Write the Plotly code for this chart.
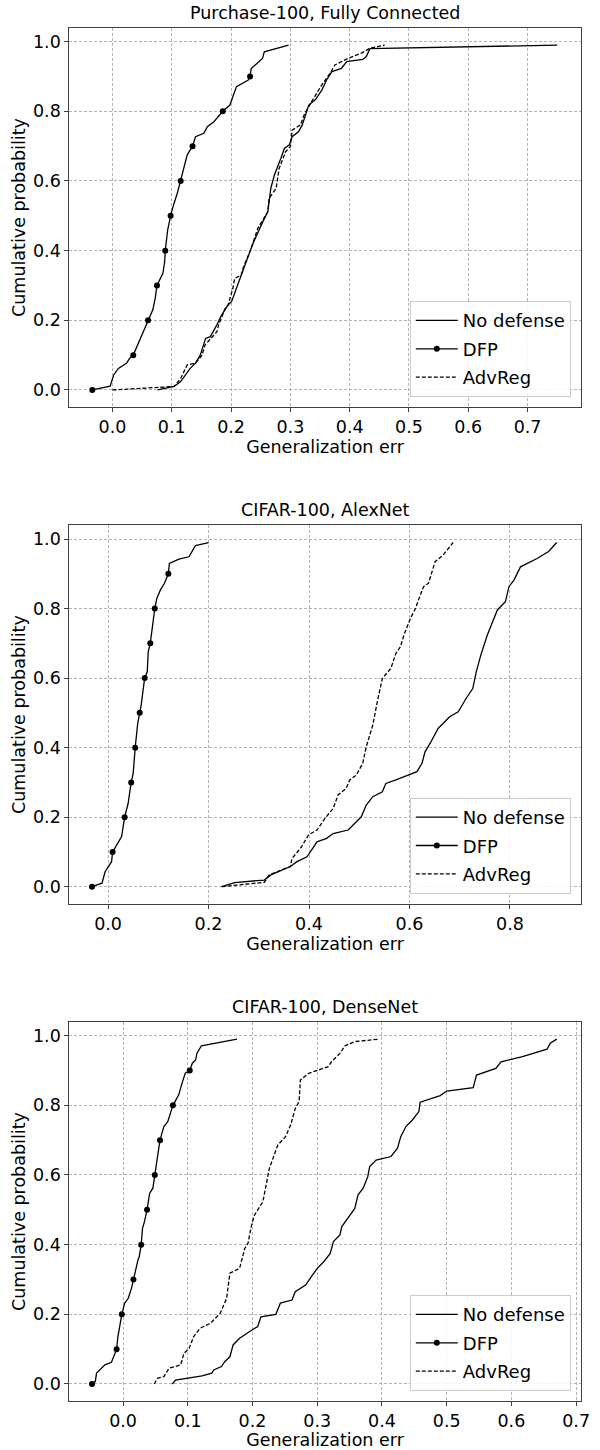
import plotly.graph_objects as go

# ---------------- data ----------------
TITLES = ["Purchase-100, Fully Connected", "CIFAR-100, AlexNet", "CIFAR-100, DenseNet"]
SERIES_NAMES = ["No defense", "DFP", "AdvReg"]
X_LABEL = "Generalization err"
Y_LABEL = "Cumulative probability"

# Plot 1: Purchase-100, Fully Connected
P1_NODEF_X = [0.076, 0.104, 0.115, 0.126, 0.131, 0.140, 0.148, 0.157, 0.165, 0.176, 0.184, 0.195, 0.201, 0.209,
              0.220, 0.234, 0.237, 0.251, 0.262, 0.267, 0.273, 0.284, 0.290, 0.298, 0.303, 0.314, 0.320, 0.331,
              0.342, 0.353, 0.361, 0.370, 0.386, 0.395, 0.422, 0.428, 0.434, 0.750]
P1_NODEF_Y = [0.0, 0.01, 0.024, 0.048, 0.062, 0.077, 0.1, 0.148, 0.153, 0.187, 0.215, 0.244, 0.254, 0.292,
              0.344, 0.407, 0.421, 0.474, 0.512, 0.579, 0.617, 0.665, 0.694, 0.703, 0.727, 0.742, 0.761, 0.818,
              0.833, 0.861, 0.89, 0.914, 0.923, 0.943, 0.949, 0.957, 0.98, 0.99]
P1_DFP_X = [-0.034, -0.004, 0.002, 0.010, 0.024, 0.029, 0.035, 0.046, 0.052, 0.060, 0.068, 0.072, 0.075, 0.085,
            0.088, 0.089, 0.093, 0.098, 0.101, 0.110, 0.115, 0.121, 0.126, 0.135, 0.140, 0.154, 0.160, 0.171,
            0.186, 0.198, 0.204, 0.209, 0.229, 0.232, 0.234, 0.244, 0.253, 0.256, 0.297]
P1_DFP_Y = [0.0, 0.011, 0.043, 0.062, 0.077, 0.091, 0.1, 0.144, 0.167, 0.2, 0.23, 0.263, 0.3, 0.335,
            0.368, 0.4, 0.459, 0.5, 0.52, 0.569, 0.6, 0.636, 0.675, 0.7, 0.727, 0.737, 0.756, 0.77,
            0.8, 0.818, 0.847, 0.871, 0.89, 0.9, 0.923, 0.938, 0.952, 0.971, 0.99]
P1_ADV_X = [0.0, 0.104, 0.115, 0.126, 0.140, 0.151, 0.156, 0.176, 0.179, 0.190, 0.195, 0.203, 0.206, 0.217,
            0.220, 0.234, 0.245, 0.262, 0.264, 0.276, 0.281, 0.287, 0.292, 0.300, 0.303, 0.317, 0.323, 0.334,
            0.342, 0.353, 0.367, 0.375, 0.397, 0.420, 0.434, 0.459]
P1_ADV_Y = [0.0, 0.01, 0.033, 0.072, 0.077, 0.1, 0.129, 0.167, 0.187, 0.234, 0.244, 0.292, 0.32, 0.33,
            0.349, 0.407, 0.464, 0.512, 0.55, 0.579, 0.636, 0.665, 0.684, 0.699, 0.746, 0.761, 0.789, 0.823,
            0.847, 0.876, 0.909, 0.933, 0.952, 0.967, 0.981, 0.99]

# Plot 2: CIFAR-100, AlexNet
P2_NODEF_X = [0.226, 0.252, 0.311, 0.324, 0.363, 0.376, 0.396, 0.409, 0.416, 0.435, 0.448, 0.478, 0.487, 0.504,
              0.514, 0.527, 0.546, 0.553, 0.573, 0.615, 0.625, 0.631, 0.641, 0.657, 0.680, 0.697, 0.713, 0.726,
              0.733, 0.742, 0.755, 0.765, 0.775, 0.791, 0.798, 0.808, 0.821, 0.854, 0.877, 0.893]
P2_NODEF_Y = [0.0, 0.012, 0.019, 0.034, 0.058, 0.072, 0.086, 0.115, 0.129, 0.139, 0.153, 0.163, 0.177, 0.201,
              0.235, 0.259, 0.273, 0.297, 0.307, 0.331, 0.355, 0.388, 0.412, 0.455, 0.489, 0.503, 0.542, 0.570,
              0.618, 0.666, 0.724, 0.762, 0.796, 0.820, 0.863, 0.882, 0.920, 0.944, 0.964, 0.99]
P2_DFP_X = [-0.032, -0.012, -0.006, 0.001, 0.007, 0.009, 0.017, 0.027, 0.033, 0.040, 0.046, 0.050, 0.054, 0.059,
            0.063, 0.066, 0.071, 0.073, 0.078, 0.080, 0.084, 0.089, 0.093, 0.097, 0.104, 0.112, 0.120, 0.122,
            0.141, 0.161, 0.174, 0.200]
P2_DFP_Y = [0.0, 0.01, 0.043, 0.058, 0.072, 0.1, 0.12, 0.144, 0.2, 0.24, 0.3, 0.326, 0.4, 0.47,
            0.5, 0.523, 0.58, 0.6, 0.618, 0.676, 0.7, 0.762, 0.8, 0.829, 0.853, 0.872, 0.9, 0.93,
            0.942, 0.949, 0.981, 0.99]
P2_ADV_X = [0.226, 0.311, 0.321, 0.363, 0.366, 0.383, 0.393, 0.399, 0.416, 0.432, 0.448, 0.458, 0.474, 0.481,
            0.494, 0.507, 0.514, 0.527, 0.536, 0.546, 0.563, 0.573, 0.582, 0.589, 0.602, 0.612, 0.618, 0.628,
            0.638, 0.651, 0.667, 0.687]
P2_ADV_Y = [0.0, 0.0125, 0.034, 0.058, 0.081, 0.110, 0.134, 0.149, 0.163, 0.197, 0.225, 0.264, 0.283, 0.307,
            0.321, 0.355, 0.403, 0.465, 0.532, 0.599, 0.628, 0.671, 0.690, 0.724, 0.772, 0.800, 0.825, 0.863,
            0.873, 0.935, 0.954, 0.99]

# Plot 3: CIFAR-100, DenseNet
P3_NODEF_X = [0.076, 0.081, 0.122, 0.137, 0.140, 0.152, 0.157, 0.165, 0.170, 0.180, 0.195, 0.208, 0.213, 0.236,
              0.243, 0.261, 0.266, 0.282, 0.289, 0.300, 0.310, 0.320, 0.325, 0.335, 0.338, 0.350, 0.358, 0.363,
              0.371, 0.378, 0.381, 0.391, 0.414, 0.424, 0.429, 0.437, 0.447, 0.457, 0.459, 0.490, 0.500, 0.541,
              0.546, 0.576, 0.584, 0.617, 0.655, 0.660, 0.670]
P3_NODEF_Y = [0.0, 0.011, 0.023, 0.031, 0.040, 0.050, 0.064, 0.078, 0.112, 0.131, 0.150, 0.165, 0.193, 0.200,
              0.232, 0.241, 0.265, 0.284, 0.303, 0.332, 0.351, 0.375, 0.409, 0.428, 0.452, 0.485, 0.504, 0.543,
              0.562, 0.595, 0.624, 0.643, 0.653, 0.677, 0.710, 0.739, 0.758, 0.782, 0.809, 0.828, 0.841, 0.851,
              0.887, 0.906, 0.925, 0.940, 0.961, 0.978, 0.99]
P3_DFP_X = [-0.048, -0.043, -0.041, -0.028, -0.018, -0.010, -0.008, -0.002, 0.0025, 0.008, 0.013, 0.016, 0.020,
            0.023, 0.025, 0.028, 0.030, 0.033, 0.037, 0.041, 0.046, 0.049, 0.052, 0.056, 0.057, 0.063, 0.069,
            0.077, 0.086, 0.091, 0.096, 0.103, 0.107, 0.112, 0.114, 0.121, 0.176]
P3_DFP_Y = [0.0, 0.007, 0.031, 0.055, 0.062, 0.1, 0.136, 0.2, 0.232, 0.246, 0.275, 0.3, 0.337,
            0.356, 0.366, 0.4, 0.447, 0.466, 0.5, 0.547, 0.562, 0.6, 0.638, 0.686, 0.7, 0.739, 0.753,
            0.8, 0.830, 0.863, 0.892, 0.9, 0.921, 0.930, 0.949, 0.971, 0.99]
P3_ADV_X = [0.048, 0.053, 0.063, 0.071, 0.089, 0.094, 0.102, 0.109, 0.119, 0.135, 0.150, 0.160, 0.165, 0.180,
            0.188, 0.193, 0.198, 0.203, 0.216, 0.226, 0.239, 0.251, 0.259, 0.266, 0.272, 0.274, 0.287, 0.317,
            0.322, 0.335, 0.343, 0.358, 0.396]
P3_ADV_Y = [0.0, 0.016, 0.021, 0.045, 0.055, 0.088, 0.102, 0.136, 0.160, 0.174, 0.203, 0.246, 0.318, 0.332,
            0.389, 0.404, 0.452, 0.485, 0.523, 0.619, 0.686, 0.710, 0.744, 0.791, 0.811, 0.873, 0.892, 0.911,
            0.925, 0.949, 0.971, 0.983, 0.99]

X_DTICK = [0.1, 0.2, 0.1]
X_RANGES = [[-0.0726, 0.7895], [-0.0769, 0.9408], [-0.0829, 0.7070]]
Y_RANGE = [-0.0495, 1.0395]

PANELS = [
    (P1_NODEF_X, P1_NODEF_Y, P1_DFP_X, P1_DFP_Y, P1_ADV_X, P1_ADV_Y),
    (P2_NODEF_X, P2_NODEF_Y, P2_DFP_X, P2_DFP_Y, P2_ADV_X, P2_ADV_Y),
    (P3_NODEF_X, P3_NODEF_Y, P3_DFP_X, P3_DFP_Y, P3_ADV_X, P3_ADV_Y),
]

# ---------------- layout geometry (pixels) ----------------
W, H = 600, 1450
AX_LEFT, AX_RIGHT = 70.5, 589.5
AX_TB = [(27.9, 407.2), (525.3, 903.9), (1021.9, 1401.2)]

FONT = "DejaVu Sans"
FS = 17.5
LEG_FS = 18
LINE_C = "#000000"
FRAME_C = "#404040"
GRID_C = "#b3b3b3"
LW = 1.3

fig = go.Figure()
layout_axes = {}
annotations = []

for i, (nx, ny, dx, dy, ax_, ay_) in enumerate(PANELS):
    k = "" if i == 0 else str(i + 1)
    xa, ya = "x" + k, "y" + k
    leg = "legend" + k
    top, bot = AX_TB[i]

    # No defense
    fig.add_trace(go.Scatter(x=nx, y=ny, mode="lines", name=SERIES_NAMES[0],
                             line=dict(color=LINE_C, width=LW), xaxis=xa, yaxis=ya,
                             legend=leg, legendgroup=f"nd{i}", showlegend=True, hoverinfo="skip"))
    # DFP line (legend via dummy)
    fig.add_trace(go.Scatter(x=dx, y=dy, mode="lines", name=SERIES_NAMES[1],
                             line=dict(color=LINE_C, width=LW), xaxis=xa, yaxis=ya,
                             legend=leg, legendgroup=f"dfp{i}", showlegend=False, hoverinfo="skip"))
    mx = [x for x, y in zip(dx, dy) if y < 0.95 and abs(y * 10 - round(y * 10)) < 1e-9]
    my = [y for x, y in zip(dx, dy) if y < 0.95 and abs(y * 10 - round(y * 10)) < 1e-9]
    fig.add_trace(go.Scatter(x=mx, y=my, mode="markers", name=SERIES_NAMES[1],
                             marker=dict(color=LINE_C, size=6), xaxis=xa, yaxis=ya,
                             legend=leg, legendgroup=f"dfp{i}", showlegend=False, hoverinfo="skip"))
    fig.add_trace(go.Scatter(x=[None], y=[None], mode="lines+markers", name=SERIES_NAMES[1],
                             line=dict(color=LINE_C, width=LW), marker=dict(color=LINE_C, size=6),
                             xaxis=xa, yaxis=ya, legend=leg, legendgroup=f"dfp{i}", showlegend=True))
    # AdvReg
    fig.add_trace(go.Scatter(x=ax_, y=ay_, mode="lines", name=SERIES_NAMES[2],
                             line=dict(color=LINE_C, width=LW, dash="4px,2px"), xaxis=xa, yaxis=ya,
                             legend=leg, legendgroup=f"adv{i}", showlegend=True, hoverinfo="skip"))

    common = dict(showline=True, mirror=True, linecolor=FRAME_C, linewidth=1.2,
                  showgrid=True, gridcolor=GRID_C, gridwidth=0.8, griddash="3px,2px",
                  ticks="outside", ticklen=4, tickwidth=1, tickcolor=FRAME_C,
                  tickfont=dict(family=FONT, size=FS, color="#000"),
                  zeroline=False, tickformat=".1f")
    layout_axes["xaxis" + k] = dict(common, domain=[AX_LEFT / W, AX_RIGHT / W], anchor=ya,
                                    range=X_RANGES[i], tick0=0, dtick=X_DTICK[i],
                                    title=dict(text=X_LABEL, font=dict(family=FONT, size=FS, color="#000"),
                                               standoff=0))
    layout_axes["yaxis" + k] = dict(common, domain=[(H - bot) / H, (H - top) / H], anchor=xa,
                                    range=Y_RANGE, tick0=0, dtick=0.2,
                                    title=dict(text=Y_LABEL, font=dict(family=FONT, size=FS, color="#000"),
                                               standoff=2))
    layout_axes[leg] = dict(x=579.5 / W, y=(H - (bot - 10)) / H, xanchor="right", yanchor="bottom",
                            xref="paper", yref="paper", itemwidth=42,
                            bgcolor="rgba(255,255,255,0.85)", bordercolor="#cccccc", borderwidth=1,
                            font=dict(family=FONT, size=LEG_FS, color="#000"), tracegroupgap=2,
                            traceorder="grouped")
    annotations.append(dict(text=TITLES[i], x=(AX_LEFT + AX_RIGHT) / 2 / W, y=(H - top + 3) / H,
                            xref="paper", yref="paper", xanchor="center", yanchor="bottom",
                            showarrow=False, font=dict(family=FONT, size=FS, color="#000")))

fig.update_layout(width=W, height=H, margin=dict(l=0, r=0, t=0, b=0),
                  paper_bgcolor="white", plot_bgcolor="white",
                  font=dict(family=FONT, size=FS, color="#000"),
                  annotations=annotations, **layout_axes)

fig.write_html("out.html")
